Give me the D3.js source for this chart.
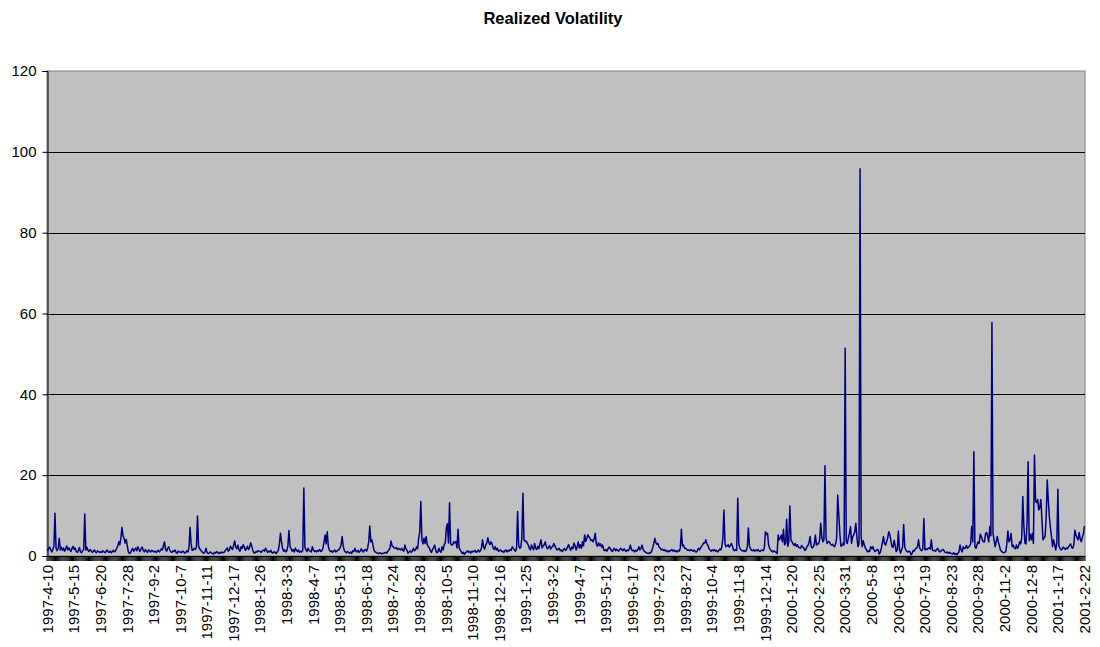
<!DOCTYPE html>
<html><head><meta charset="utf-8">
<script src="https://cdn.jsdelivr.net/npm/d3@7"></script>
<style>html,body{margin:0;padding:0;background:#fff;}svg{display:block;font-family:"Liberation Sans",Arial,sans-serif;}</style>
</head><body><svg id="c" width="1100" height="647"></svg>
<script>
const title = "Realized Volatility";
const tickLabels = ["1997-4-10","1997-5-15","1997-6-20","1997-7-28","1997-9-2","1997-10-7","1997-11-11","1997-12-17","1998-1-26","1998-3-3","1998-4-7","1998-5-13","1998-6-18","1998-7-24","1998-8-28","1998-10-5","1998-11-10","1998-12-16","1999-1-25","1999-3-2","1999-4-7","1999-5-12","1999-6-17","1999-7-23","1999-8-27","1999-10-4","1999-11-8","1999-12-14","2000-1-20","2000-2-25","2000-3-31","2000-5-8","2000-6-13","2000-7-19","2000-8-23","2000-9-28","2000-11-2","2000-12-8","2001-1-17","2001-2-22"];
const labelEvery = 25;
const yTicks = [0,20,40,60,80,100,120];

const volPart1 = [
1.2,1.8,2.2,1.5,1.0,1.6,2.5,10.6,2.0,1.3,1.8,4.4,1.5,2.2,1.4,2.0,1.2,1.7,2.5,1.5,2.0,1.6,1.1,1.9,2.4,
1.6,2.0,1.2,0.9,1.4,2.1,1.0,0.8,1.3,1.6,10.4,1.5,2.2,1.4,1.1,1.6,1.3,0.9,1.2,1.5,1.0,0.8,1.3,1.1,0.9,
1.1,0.9,1.3,1.0,0.8,1.2,1.5,1.0,0.9,1.2,0.8,1.1,1.4,1.0,1.3,1.9,2.4,3.5,2.8,4.5,7.1,5.0,4.4,3.2,4.1,
2.5,1.0,0.6,0.8,1.4,1.9,1.2,1.5,2.0,1.3,2.3,1.6,1.1,1.8,2.2,1.4,1.0,1.6,1.2,0.9,1.5,1.3,1.0,1.4,1.2,
1.0,1.2,0.9,1.1,1.4,1.0,1.3,1.8,1.5,2.6,3.5,1.6,1.2,1.9,2.3,1.4,1.0,0.9,1.3,1.1,1.5,0.8,0.7,1.2,1.0,
1.0,0.8,1.2,1.1,0.7,0.9,1.3,1.0,2.0,7.1,3.0,1.4,1.5,1.9,1.6,2.2,9.9,2.5,1.8,1.5,1.1,0.8,0.7,1.0,1.9,
0.9,0.6,0.7,1.0,0.8,0.6,0.5,0.9,0.7,1.1,0.8,0.6,0.9,0.7,1.0,0.8,0.9,1.3,1.6,2.0,1.2,1.5,2.4,1.9,1.6,
2.7,3.7,2.2,1.8,2.7,1.5,1.2,2.3,1.9,2.8,2.2,1.4,1.8,2.4,1.6,2.1,3.3,2.5,1.4,0.8,0.7,1.1,1.0,1.3,1.2];
const volPart2 = [
1.1,0.9,1.3,1.5,1.2,1.9,1.4,0.9,1.2,1.0,1.4,0.8,0.7,1.1,0.9,0.6,1.0,1.4,3.0,5.6,3.5,1.9,1.2,1.5,1.0,
1.3,2.5,6.3,2.3,1.8,1.2,1.6,1.0,1.9,1.4,1.1,1.5,0.9,1.2,1.0,1.4,16.8,2.2,1.5,1.1,1.9,1.4,1.2,1.0,2.3,
1.5,1.1,1.3,1.0,1.4,1.2,1.6,1.1,1.3,2.0,3.5,5.2,3.0,6.0,2.4,1.4,1.1,1.3,0.9,1.2,1.5,1.0,1.2,1.4,1.6,
2.0,2.7,4.8,2.5,1.4,1.0,0.8,1.1,0.9,0.7,1.0,0.6,1.3,1.1,1.9,1.2,1.0,1.4,0.9,1.2,1.8,1.3,1.0,1.5,1.6,
1.2,2.0,3.5,7.4,3.5,4.0,2.7,1.4,1.0,0.9,0.7,0.6,0.8,0.7,0.5,0.7,0.6,0.8,0.9,0.7,1.2,1.5,2.0,3.7,2.5,
2.3,2.0,1.9,2.1,1.6,1.9,1.7,1.5,1.9,1.4,1.2,2.7,1.8,1.4,0.7,1.0,1.3,0.9,1.2,1.9,1.3,1.5,2.3,1.8,4.4,
6.0,13.5,4.0,3.0,4.4,3.1,4.8,2.8,2.3,2.0,1.3,0.9,1.6,2.1,2.7,1.4,0.8,1.0,1.9,1.2,0.9,2.3,1.5,2.8,3.3,
7.0,8.0,3.2,13.2,3.1,2.7,2.8,3.5,3.2,3.6,2.0,6.6,2.0,1.5,1.1,0.6,0.9,0.4,0.8,1.0,1.3,0.9,1.1,0.7,1.2];
const volPart3 = [
1.0,1.2,1.4,0.9,1.1,1.5,1.0,1.3,1.9,4.0,2.3,1.7,2.7,3.2,4.5,3.3,2.8,3.5,3.0,2.0,1.6,2.3,1.5,1.9,1.2,
1.3,1.5,1.1,1.2,0.9,1.3,1.5,1.0,1.4,1.2,1.6,1.4,2.3,1.9,1.5,1.2,2.0,11.0,2.6,1.9,2.1,4.5,15.5,4.0,3.6,
3.7,3.2,2.7,1.9,1.5,2.7,2.0,1.5,3.1,1.9,1.6,2.4,1.8,3.0,4.0,2.0,2.5,2.8,3.5,2.3,1.8,2.1,2.6,1.7,2.2,
2.3,3.1,2.6,1.9,1.5,1.7,1.9,1.3,1.5,1.1,1.5,1.9,1.4,1.6,2.3,2.8,1.9,1.4,2.2,1.8,3.2,2.6,1.5,2.3,3.5,
2.0,2.8,1.9,3.5,2.5,5.2,3.6,4.3,5.2,4.8,4.4,3.8,4.0,3.5,4.2,5.6,3.0,2.4,3.3,2.6,3.0,2.2,2.7,1.5,1.3,
1.6,1.2,1.8,2.2,1.9,1.4,1.1,1.6,1.9,1.3,1.7,1.4,1.2,1.6,1.9,1.5,1.3,1.8,1.4,1.1,1.5,1.3,1.7,2.7,1.6,
1.3,1.5,1.0,1.4,1.2,1.6,2.3,1.5,1.9,2.7,1.6,1.2,1.0,0.8,0.7,0.6,0.8,0.7,1.2,2.0,3.0,4.4,3.3,2.9,3.1,
2.2,2.0,1.5,1.7,1.4,1.6,1.2,1.4,1.0,1.3,1.1,1.4,1.6,1.2,1.5,1.1,1.3,1.0,1.4,1.2,2.0,6.6,2.5,2.7,1.9];
const volPart4 = [
1.9,1.6,1.4,1.5,1.3,1.6,1.4,1.2,1.5,1.1,1.0,1.3,1.9,1.5,2.0,2.4,2.8,3.3,3.2,4.0,3.0,2.6,1.8,1.5,1.2,
1.5,1.3,1.6,1.2,1.4,1.0,1.3,1.7,1.5,2.2,4.4,11.4,3.0,2.3,2.5,2.8,2.2,2.6,3.1,2.4,1.5,1.3,1.6,1.4,14.3,
3.0,1.9,1.5,1.3,1.2,1.4,1.1,1.3,2.2,6.9,2.5,1.8,1.4,1.3,1.6,1.2,1.5,1.3,1.6,1.2,1.1,1.4,1.5,1.3,2.0,
6.0,5.3,5.6,2.7,1.9,1.5,1.2,1.0,1.3,1.1,0.9,0.6,5.2,4.0,4.4,5.2,3.5,6.6,2.8,3.1,9.1,2.4,3.5,12.4,4.0,
3.5,3.0,2.6,3.1,2.4,2.8,2.2,2.0,1.9,2.6,2.3,2.0,1.4,1.6,2.3,2.6,3.4,4.8,2.4,2.0,2.3,3.0,5.2,2.7,3.1,
3.0,4.0,8.1,4.8,3.5,4.0,22.3,4.5,3.1,3.5,3.6,3.0,2.7,2.9,2.5,2.3,3.0,4.5,15.1,10.2,5.5,2.4,2.6,3.2,2.7,
51.4,3.5,3.1,4.5,5.6,7.3,3.1,4.8,5.2,6.0,8.1,4.8,2.3,3.0,95.8,4.8,2.3,3.8,2.7,2.0,1.5,1.0,1.3,1.1,2.3,
1.8,2.3,1.5,1.1,1.3,1.6,1.5,0.5,0.9,2.0,3.3,4.8,3.1,2.7,3.6,4.5,6.0,5.3,3.8,2.3,2.1,3.9,2.6,1.1,1.5];
const volPart5 = [
6.2,1.8,0.7,1.5,2.3,7.8,2.3,1.5,1.1,1.0,1.2,1.0,0.3,0.6,1.4,1.2,1.8,1.9,2.4,4.0,2.0,1.5,1.3,1.8,9.3,
1.5,1.8,1.6,1.9,2.0,1.7,4.0,1.5,1.3,1.4,1.2,1.6,1.9,1.3,1.0,1.2,1.5,1.6,1.3,0.9,0.8,1.0,0.7,0.9,0.7,
0.6,0.5,0.8,0.4,0.6,0.3,0.7,1.0,2.7,1.5,1.0,2.3,1.8,2.0,2.6,1.9,2.2,2.5,3.0,7.3,3.5,25.8,2.3,1.9,2.8,
3.5,3.1,5.4,4.8,4.0,3.5,3.5,5.6,5.8,4.8,3.5,7.3,5.0,57.8,5.6,4.0,2.3,3.5,4.8,3.5,2.5,1.5,1.2,0.9,0.8,
0.9,1.1,3.0,6.2,3.5,4.0,5.6,2.3,2.7,2.0,1.8,2.7,1.9,2.4,3.5,3.0,4.5,14.7,7.5,3.2,3.0,8.1,23.3,3.8,5.4,
4.0,5.6,3.1,25.0,13.7,13.2,14.0,11.4,12.0,14.0,9.0,4.0,4.5,4.8,9.7,18.8,13.7,9.7,7.0,4.8,2.3,4.0,2.8,1.5,3.1,
16.5,2.5,1.9,1.5,1.7,2.2,1.9,1.6,2.0,1.8,2.3,2.6,3.0,2.1,1.9,2.8,6.4,5.2,4.5,4.0,5.8,4.2,3.5,4.6,5.5,
7.4];

const values = [].concat(volPart1, volPart2, volPart3, volPart4, volPart5);
const n = values.length;

const svg = d3.select("#c");
const L = 47, R = 1085, T = 71, B = 556;

const x = d3.scaleBand().domain(d3.range(n)).range([L, R]).padding(0);
const cx = i => x(i) + x.bandwidth() / 2;
const y = d3.scaleLinear().domain([0, 120]).range([B, T]);

// plot background
svg.append("rect").attr("x", L).attr("y", T).attr("width", R - L).attr("height", B - T)
  .attr("fill", "#c0c0c0").attr("stroke", "#808080").attr("stroke-width", 1);

// gridlines
svg.append("g").selectAll("line").data(yTicks.filter(d => d > 0 && d < 120)).join("line")
  .attr("x1", L).attr("x2", R)
  .attr("y1", d => Math.round(y(d)) + 0.5).attr("y2", d => Math.round(y(d)) + 0.5)
  .attr("stroke", "#000").attr("stroke-width", 1);

// y axis
const yAxis = d3.axisLeft(y).tickValues(yTicks).tickSize(5).tickPadding(6);
const gy = svg.append("g").attr("transform", `translate(${L + 0.5},0)`).call(yAxis);
gy.select(".domain").attr("stroke", "#000");
gy.selectAll(".tick line").attr("stroke", "#000");
gy.selectAll("text").attr("font-size", "15px").attr("fill", "#000")
  .attr("font-family", "'Liberation Sans', Arial, sans-serif");

// x axis: ticks at category boundaries
const boundaries = d3.range(n + 1).map(i => L + i * x.bandwidth());
svg.append("g").selectAll("line").data(boundaries).join("line")
  .attr("x1", d => d).attr("x2", d => d).attr("y1", B).attr("y2", B + 5)
  .attr("stroke", "#000").attr("stroke-width", 1);
svg.append("line").attr("x1", L).attr("x2", R).attr("y1", B + 0.5).attr("y2", B + 0.5)
  .attr("stroke", "#000").attr("stroke-width", 1);

// x labels
svg.append("g").selectAll("text").data(tickLabels).join("text")
  .attr("transform", (d, k) => `translate(${cx(k * labelEvery)},${B + 9}) rotate(-90)`)
  .attr("text-anchor", "end").attr("dy", "0.35em")
  .attr("font-size", "15px").attr("fill", "#000").text(d => d);

// line
const line = d3.line().x((d, i) => cx(i)).y(d => y(d));
svg.append("path").datum(values).attr("d", line)
  .attr("fill", "none").attr("stroke", "#000080").attr("stroke-width", 1.5)
  .attr("stroke-linejoin", "round");

// title
svg.append("text").attr("x", 553).attr("y", 24).attr("text-anchor", "middle")
  .attr("font-size", "16.5px").attr("font-weight", "bold").attr("fill", "#000").text(title);
</script></body></html>
